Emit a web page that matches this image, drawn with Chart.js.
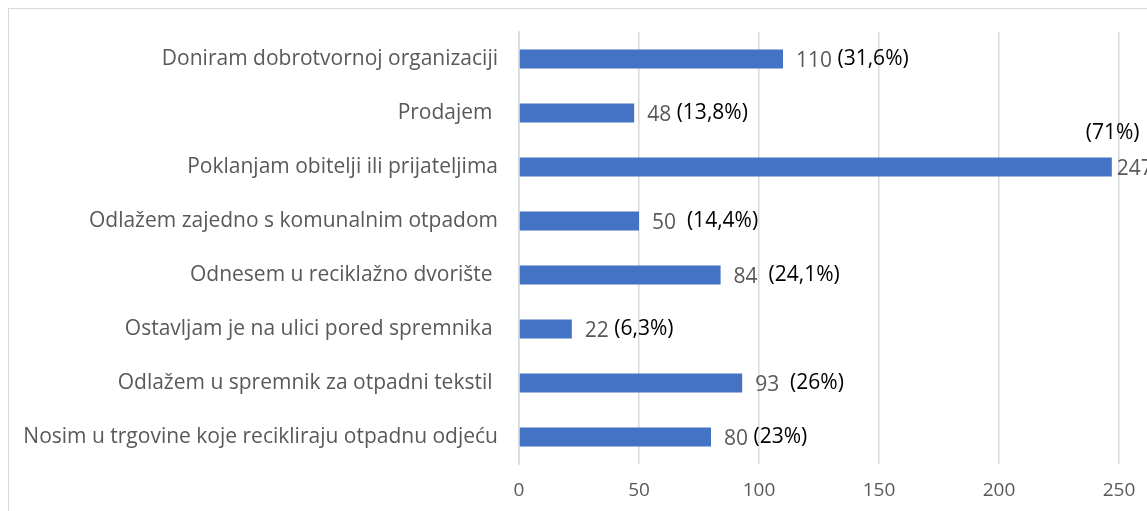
<!DOCTYPE html>
<html>
<head>
<meta charset="utf-8">
<script src="https://cdn.jsdelivr.net/npm/chart.js@4"></script>
<style>
  html, body { margin: 0; padding: 0; background: #fff; overflow: hidden; }
  #frame {
    position: absolute; left: 8px; top: 8px;
    width: 1400px; height: 600px;
    border: 1.5px solid #d9d9d9;
  }
  #wrap { position: absolute; left: 0; top: 0; width: 1260px; height: 502px; }
</style>
</head>
<body>
<div id="frame"><div id="wrap"><canvas id="chart"></canvas></div></div>
<script>
const categories = [
  "Doniram dobrotvornoj organizaciji",
  "Prodajem ",
  "Poklanjam obitelji ili prijateljima",
  "Odlažem zajedno s komunalnim otpadom",
  "Odnesem u reciklažno dvorište ",
  "Ostavljam je na ulici pored spremnika ",
  "Odlažem u spremnik za otpadni tekstil ",
  "Nosim u trgovine koje recikliraju otpadnu odjeću"
];
const counts = [110, 48, 247, 50, 84, 22, 93, 80];
const pctLabels = [" (31,6%)", " (13,8%)", "(71%)", "  (14,4%)", "  (24,1%)", " (6,3%)", "  (26%)", " (23%)"];
const xTicks = [0, 50, 100, 150, 200, 250, 300];

const FONT = "'Open Sans', sans-serif";

const valueLabels = {
  id: "valueLabels",
  afterDatasetsDraw(chart) {
    const ctx = chart.ctx;
    const meta = chart.getDatasetMeta(0);
    ctx.save();
    ctx.font = "21px " + FONT;
    ctx.textBaseline = "middle";
    ctx.textAlign = "left";
    meta.data.forEach((bar, i) => {
      const v = String(counts[i]);
      if (counts[i] > 200) {
        // long bar: count to the right, percentage above
        ctx.fillStyle = "#595959";
        ctx.fillText(v, bar.x + 5, bar.y + 2);
        ctx.fillStyle = "#000";
        ctx.fillText(pctLabels[i], bar.x - 26, bar.y - 34);
      } else {
        const x0 = bar.x + 13;
        ctx.fillStyle = "#595959";
        ctx.fillText(v, x0, bar.y + 2);
        ctx.fillStyle = "#000";
        ctx.fillText(pctLabels[i], x0 + ctx.measureText(v).width, bar.y);
      }
    });
    ctx.restore();
  }
};

new Chart(document.getElementById("chart"), {
  type: "bar",
  data: {
    labels: categories,
    datasets: [{
      data: counts,
      backgroundColor: "#4472c4",
      borderWidth: 0,
      barPercentage: 0.7,
      categoryPercentage: 0.5
    }]
  },
  options: {
    indexAxis: "y",
    responsive: true,
    maintainAspectRatio: false,
    animation: false,
    layout: { padding: { top: 23, right: 30, bottom: 7, left: 0 } },
    plugins: { legend: { display: false }, tooltip: { enabled: false } },
    scales: {
      x: {
        min: 0,
        max: 300,
        afterBuildTicks: (s) => { s.ticks = xTicks.map((v) => ({ value: v })); },
        afterFit: (s) => { s.height = 40; s.paddingLeft = 0; s.paddingRight = 0; },
        grid: { color: "#d9d9d9", lineWidth: 1.5, drawTicks: false },
        border: { display: false },
        ticks: { color: "#595959", font: { family: FONT, size: 19 }, padding: 15 }
      },
      y: {
        afterFit: (s) => { s.width = 510; s.paddingTop = 0; s.paddingBottom = 0; },
        grid: { display: false, drawTicks: false },
        border: { display: true, color: "#d9d9d9", width: 1.5 },
        ticks: { color: "#595959", font: { family: FONT, size: 21 }, padding: 21 }
      }
    }
  },
  plugins: [valueLabels]
});
</script>
</body>
</html>
